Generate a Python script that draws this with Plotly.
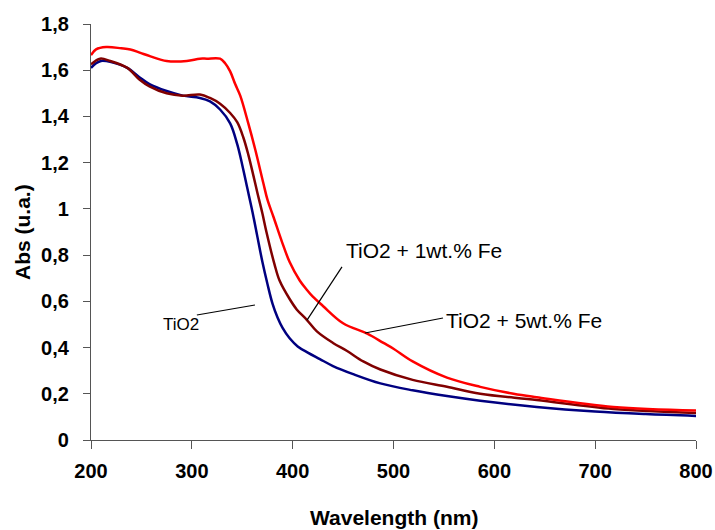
import plotly.graph_objects as go

# Wavelength (nm) / absorbance readings per sample
wl_tio2 = [200, 205, 210, 220, 236, 248, 258, 275, 291, 308, 318, 328, 338, 345, 350, 355, 360, 365, 370, 375, 380, 385, 390, 397, 405, 415, 427, 440, 460, 487, 519, 553, 586, 642, 700, 750, 800]
abs_tio2 = [1.61, 1.63, 1.64, 1.635, 1.61, 1.57, 1.54, 1.51, 1.49, 1.48, 1.465, 1.43, 1.37, 1.28, 1.19, 1.09, 0.99, 0.88, 0.77, 0.675, 0.59, 0.53, 0.485, 0.44, 0.405, 0.378, 0.35, 0.32, 0.285, 0.245, 0.215, 0.19, 0.17, 0.143, 0.123, 0.112, 0.104]

wl_fe1 = [200, 209, 219, 236, 248, 258, 275, 291, 308, 318, 328, 338, 345, 351, 356, 361, 365, 370, 374, 382, 387, 397, 404, 414, 424, 440, 454, 470, 487, 519, 553, 586, 642, 718, 800]
abs_fe1 = [1.625, 1.65, 1.64, 1.61, 1.56, 1.53, 1.50, 1.49, 1.495, 1.48, 1.455, 1.415, 1.375, 1.31, 1.235, 1.145, 1.07, 0.98, 0.90, 0.76, 0.69, 0.61, 0.565, 0.52, 0.47, 0.42, 0.385, 0.34, 0.305, 0.26, 0.23, 0.20, 0.173, 0.134, 0.117]

wl_fe5 = [200, 205, 215, 230, 239, 249, 259, 275, 295, 308, 315, 328, 333, 338, 343, 348, 356, 363, 371, 375, 381, 390, 397, 407, 414, 420, 430, 450, 474, 490, 500, 519, 553, 586, 619, 642, 718, 800]
abs_fe5 = [1.665, 1.69, 1.70, 1.695, 1.69, 1.675, 1.66, 1.64, 1.64, 1.65, 1.65, 1.65, 1.63, 1.595, 1.54, 1.49, 1.37, 1.255, 1.11, 1.04, 0.965, 0.85, 0.77, 0.69, 0.65, 0.62, 0.58, 0.505, 0.46, 0.42, 0.395, 0.34, 0.27, 0.23, 0.20, 0.185, 0.143, 0.128]

x_ticks = [200, 300, 400, 500, 600, 700, 800]
y_ticks = [0, 0.2, 0.4, 0.6, 0.8, 1.0, 1.2, 1.4, 1.6, 1.8]
y_labels = ["0", "0,2", "0,4", "0,6", "0,8", "1", "1,2", "1,4", "1,6", "1,8"]

FONT = "Liberation Sans, Arial, sans-serif"

fig = go.Figure()
fig.add_trace(go.Scatter(x=wl_tio2, y=abs_tio2, mode="lines", name="TiO2",
                         line=dict(color="#000080", width=2.5), line_shape="spline"))
fig.add_trace(go.Scatter(x=wl_fe1, y=abs_fe1, mode="lines", name="TiO2 + 1wt.% Fe",
                         line=dict(color="#800000", width=2.5), line_shape="spline"))
fig.add_trace(go.Scatter(x=wl_fe5, y=abs_fe5, mode="lines", name="TiO2 + 5wt.% Fe",
                         line=dict(color="#FF0000", width=2.5), line_shape="spline"))

# leader lines (data coords)
leaders = [
    (305, 0.541, 362.6, 0.584),
    (448.9, 0.749, 414.2, 0.519),
    (549.1, 0.528, 471.7, 0.463),
]
for x0, y0, x1, y1 in leaders:
    fig.add_shape(type="line", x0=x0, y0=y0, x1=x1, y1=y1, xref="x", yref="y",
                  line=dict(color="black", width=1.2))

fig.add_annotation(x=289, y=0.498, text="TiO2", showarrow=False,
                   font=dict(family=FONT, size=17, color="black"))
fig.add_annotation(x=450.5, y=0.818, text="TiO2 + 1wt.% Fe", showarrow=False, xanchor="left",
                   font=dict(family=FONT, size=21, color="black"))
fig.add_annotation(x=549.8, y=0.515, text="TiO2 + 5wt.% Fe", showarrow=False, xanchor="left",
                   font=dict(family=FONT, size=21, color="black"))

# axis titles
fig.add_annotation(x=0.5, y=0, xref="paper", yref="paper", yshift=-77, yanchor="middle",
                   text="<b>Wavelength (nm)</b>", showarrow=False,
                   font=dict(family=FONT, size=21, color="black"))
fig.add_annotation(x=0, y=0.5, xref="paper", yref="paper", xshift=-69, xanchor="center",
                   text="<b>Abs (u.a.)</b>", showarrow=False, textangle=-90,
                   font=dict(family=FONT, size=21, color="black"))

fig.update_layout(
    width=715, height=530,
    margin=dict(l=91, r=19, t=24, b=90, autoexpand=False),
    plot_bgcolor="white", paper_bgcolor="white",
    showlegend=False,
    font=dict(family=FONT, color="black"),
)
fig.update_xaxes(range=[200, 800], tickvals=x_ticks, ticks="outside", ticklen=8,
                 tickcolor="#555", showline=True, linecolor="#555", linewidth=1.2,
                 showgrid=False, zeroline=False, automargin=False, ticklabelstandoff=5,
                 tickfont=dict(family=FONT, size=20, color="black", weight="bold"))
fig.update_yaxes(range=[0, 1.8], tickvals=y_ticks, ticktext=y_labels, ticks="outside", ticklen=7,
                 tickcolor="#555", showline=True, linecolor="#555", linewidth=1.2,
                 showgrid=False, zeroline=False, automargin=False, ticklabelstandoff=10,
                 tickfont=dict(family=FONT, size=20, color="black", weight="bold"))

fig.write_html("out.html", config={"displayModeBar": False},
               post_script="document.body.style.margin='0';document.body.style.overflow='hidden';")
